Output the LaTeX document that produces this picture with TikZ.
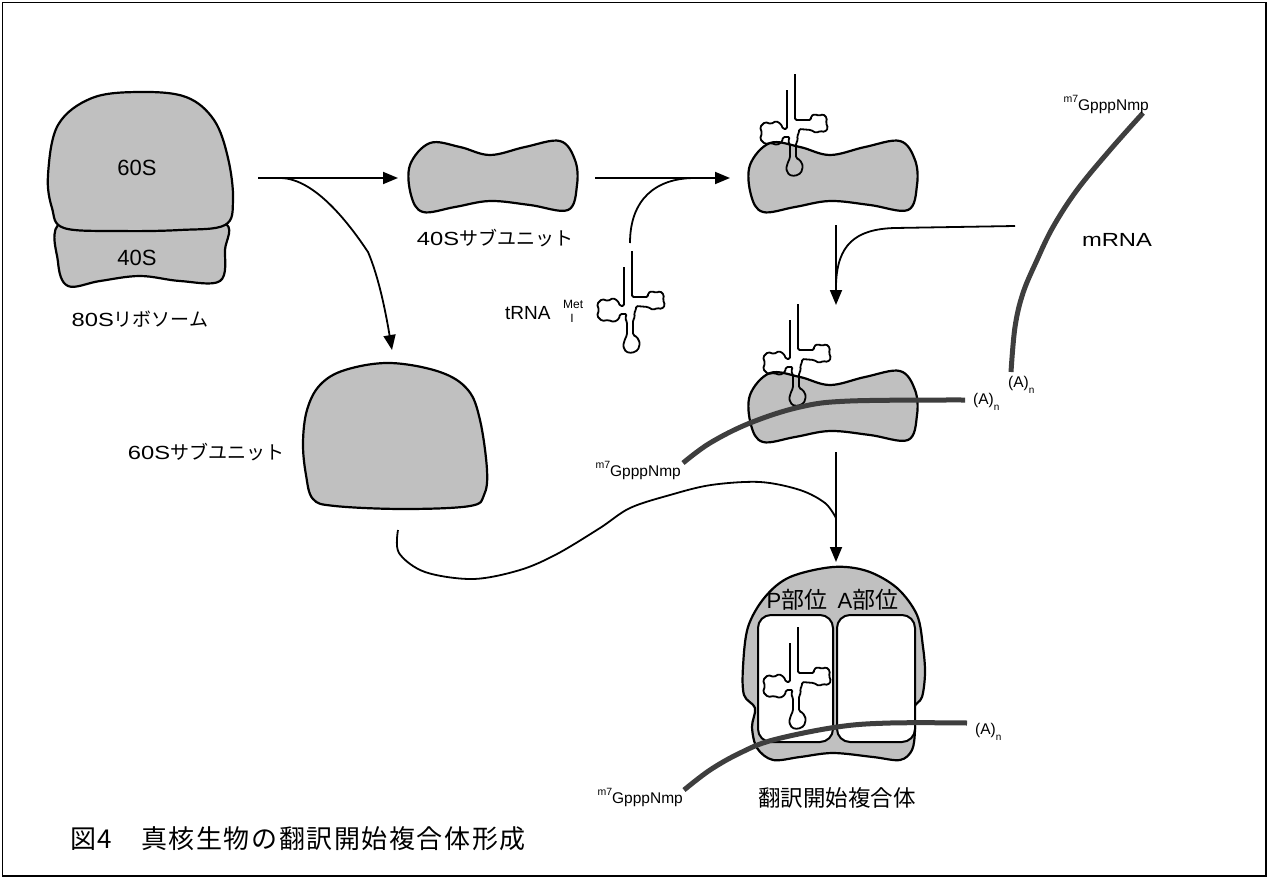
\documentclass[tikz,border=0pt]{standalone}
\usepackage{fontspec}
\setmainfont{Liberation Sans}
\newfontfamily\wide{Liberation Sans}[FakeStretch=1.25]
\newfontfamily\jp{Noto Sans CJK JP}
\newfontfamily\jpwide{Noto Sans CJK JP}[LetterSpace=6]
\usetikzlibrary{arrows.meta}
\definecolor{ribo}{RGB}{192,192,192}
\definecolor{rnagray}{RGB}{62,62,62}
% 5' cap and poly(A) tail labels
\newcommand\capsite{\raisebox{0.5em}{\fontsize{10.5}{10.5}\selectfont m7}GpppNmp}
\newcommand\polyA{(A)\raisebox{-0.4em}{\fontsize{10}{10}\selectfont n}}
\begin{document}
\begin{tikzpicture}[x=1pt,y=-1pt,
  body/.style={fill=ribo, draw=black, line width=2.2pt, line join=round},
  conn/.style={line width=1.8pt},
  arr/.style={conn, -{Triangle[length=15pt,width=12pt]}},
  rna/.style={draw=rnagray, line width=5pt},
  trnaline/.style={line width=1.8pt, rounded corners=1.5pt, line join=round},
  site/.style={draw, fill=white, line width=2pt, rounded corners=13pt, minimum height=127pt, inner sep=0pt},
  lbl/.style={inner sep=0pt, font=\fontsize{19}{19}\selectfont},
  small/.style={inner sep=0pt, font=\fontsize{15.5}{15.5}\selectfont},
  trna/.pic={\draw[trnaline] (0,-46) -- (0,0) -- (16,0) -- (16,-4) -- (20,-6) -- (24,-4) -- (28,-6) -- (32,-2)
      -- (31,3) -- (33,8) -- (30,12) -- (25,11) -- (21,13) -- (16,10) -- (4,9) -- (4,13) -- (2,16) -- (3,20)
      -- (1,23) -- (1,38) -- (5,40) -- (8,46) -- (6,53) -- (0,56) -- (-6,55) -- (-9,49) -- (-7,42) -- (-5,38)
      -- (-5,25) -- (-7,21) -- (-5,17) -- (-12,17) -- (-13,22) -- (-18,25) -- (-24,23) -- (-30,24)
      -- (-35,19) -- (-33,13) -- (-35,7) -- (-30,2) -- (-24,4) -- (-19,1) -- (-14,4) -- (-12,9)
      -- (-8,9) -- (-8,-30);},
  small40/.pic={\draw[body] plot[smooth cycle, tension=0.6] coordinates {(20,3) (50,7) (80,15) (115,7)
      (150,1) (165,20) (167,45) (158,70) (120,65) (80,61) (45,67) (13,72) (1,55) (0,25)};}
]
\useasboundingbox (0,0) rectangle (1269,878);
\draw[line width=1.5pt] (2.5,2.5) rectangle (1266,876);

% 80S ribosome: small subunit below, large subunit on top
\draw[body] plot[smooth cycle, tension=0.6] coordinates {(62,222) (140,224) (222,222) (225,250) (220,281)
    (180,281) (140,276) (100,281) (68,286) (58,262)};
\draw[body] plot[smooth cycle, tension=0.6] coordinates {(48,175) (58,125) (92,98) (140,92) (186,97) (214,120)
    (228,158) (233,200) (225,225) (180,230) (120,231) (64,228) (52,208)};
\node[inner sep=0pt, font=\fontsize{22}{22}\selectfont] (l60) at (137,168) {60S};
\node[inner sep=0pt, font=\fontsize{22}{22}\selectfont] (l40) at (137,258) {40S};
\node[lbl] (l80) at (140,319) {{\wide 80S}{\jp リボソーム}};

% dissociation arrows
\coordinate (s1) at (258,178);
\coordinate (e1) at (398,178);
\coordinate (b1) at (280,178);
\coordinate (e2) at (392,350);
\draw[arr] (s1) -- (e1);
\draw[arr] (b1) .. controls (315,178) and (350,225) .. (368,252) .. controls (380,280) and (387,320) .. (e2);

% free small subunit
\pic at (410,140) {small40};
\node[lbl] (l40s) at (495,238) {{\wide 40S}{\jp サブユニット}};

% free large subunit
\draw[body] plot[smooth cycle, tension=0.6] coordinates {(303,443) (307,410) (320,385) (345,370) (390,363)
    (440,372) (468,390) (480,420) (487,470) (484,495) (470,506) (404,509) (335,506) (313,499) (306,475)};
\node[lbl] (l60s) at (206,452) {{\wide 60S}{\jp サブユニット}};

% initiator tRNA
\pic at (632,297) {trna};
\node[lbl, anchor=west] (ltrna) at (505,313) {tRNA};
\node[inner sep=0pt, anchor=west, font=\fontsize{12}{12}\selectfont] (lmet) at (563,304) {Met};
\node[inner sep=0pt, font=\fontsize{12}{12}\selectfont] (li) at (572,318) {I};

% tRNA joins the small subunit
\coordinate (s2) at (595,178);
\coordinate (e3) at (730,178);
\coordinate (b2) at (630,243);
\coordinate (j2) at (695,178);
\draw[arr] (s2) -- (e3);
\draw[conn] (b2) .. controls (630,200) and (655,178) .. (j2);

\pic at (750,140) {small40};
\pic at (795,120) {trna};

% mRNA
\draw[rna] plot[smooth, tension=0.6] coordinates {(1143,113) (1110,150) (1077,190) (1053,227) (1037,260)
    (1023,293) (1015,327) (1011,372)};
\node[small, anchor=base east] (cap1) at (1149,110) {\capsite};
\node[lbl, font=\fontsize{19}{19}\selectfont\wide] (lmrna) at (1117,240) {mRNA};
\node[small, anchor=base west] (pa1) at (1008,387) {\polyA};

% mRNA binding
\coordinate (s3) at (836,225);
\coordinate (e4) at (836,305);
\coordinate (b3) at (1015,226);
\coordinate (j3) at (836,285);
\draw[arr] (s3) -- (e4);
\draw[conn] (b3) -- (895,228) .. controls (855,229) and (837,245) .. (j3);

\pic at (750,370) {small40};
\pic at (798,350) {trna};
\draw[rna] plot[smooth, tension=0.6] coordinates {(683,463) (710,443) (750,423) (800,407) (850,401) (965,400)};
\node[small, anchor=base east] (cap2) at (681,476) {\capsite};
\node[small, anchor=base west] (pa2) at (973,404) {\polyA};

% large subunit joins
\coordinate (s4) at (836,452);
\coordinate (e5) at (836,562);
\coordinate (b4) at (398,530);
\coordinate (j4) at (836,518);
\draw[arr] (s4) -- (e5);
\draw[conn] plot[smooth, tension=0.55] coordinates {(b4) (399,553) (425,572) (473,579) (520,570) (557,554)
    (600,528) (630,508) (670,495) (711,485) (760,482) (800,490) (825,503) (j4)};

% 80S initiation complex
\draw[body] plot[smooth cycle, tension=0.55] coordinates {(833,567) (867,571) (897,588) (917,615) (923,647)
    (925,673) (922,697) (914,708) (915,730) (912,750) (900,760) (873,757) (833,753) (800,757) (773,760)
    (757,748) (752,727) (755,708) (744,695) (743,667) (748,627) (765,597) (790,577)};
\node[site, minimum width=75pt] (psite) at (795.5,678.5) {};
\node[site, minimum width=78pt] (asite) at (876,678.5) {};
\node[inner sep=0pt, font=\fontsize{22}{22}\selectfont] (lp) at (797,600) {P{\jp\fontsize{23}{23}\selectfont 部位}};
\node[inner sep=0pt, font=\fontsize{22}{22}\selectfont] (la) at (868,600) {A{\jp\fontsize{23}{23}\selectfont 部位}};
\pic at (798,673) {trna};
\draw[rna] plot[smooth, tension=0.6] coordinates {(684,790) (710,770) (740,753) (773,740) (837,727) (890,723) (967,723)};
\node[small, anchor=base east] (cap3) at (683,803) {\capsite};
\node[small, anchor=base west] (pa3) at (975,734) {\polyA};
\node[inner sep=0pt, font=\fontsize{22.5}{22.5}\selectfont\jp] (lic) at (837,798) {翻訳開始複合体};

% caption
\node[inner sep=0pt, anchor=west, font=\fontsize{26}{26}\selectfont\jpwide] (cap) at (70,839) {図4　真核生物の翻訳開始複合体形成};
\end{tikzpicture}
\end{document}
